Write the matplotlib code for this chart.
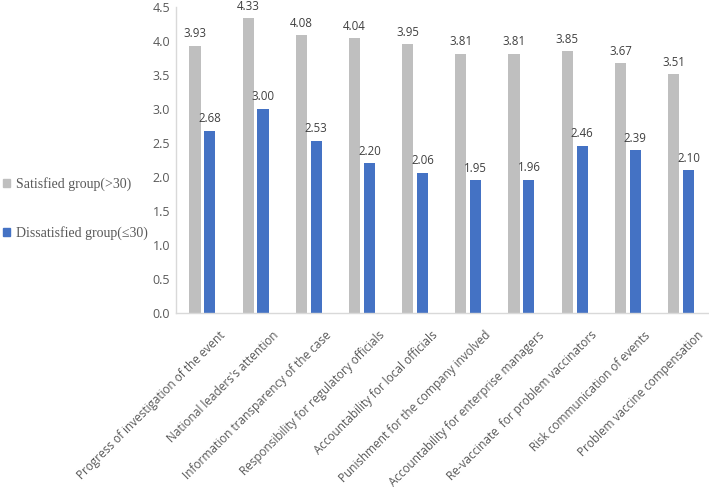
import numpy as np
import matplotlib
matplotlib.use("Agg")
import matplotlib.pyplot as plt
import matplotlib.transforms as mtransforms
from matplotlib.patches import Patch

categories = [
    "Progress of investigation of the event",
    "National leaders's attention",
    "Information transparency of the case",
    "Responsibility for regulatory officials",
    "Accountability for local officials",
    "Punishment for the company involved",
    "Accountability for enterprise managers",
    "Re-vaccinate  for problem vaccinators",
    "Risk communication of events",
    "Problem vaccine compensation",
]
satisfied = [3.93, 4.33, 4.08, 4.04, 3.95, 3.81, 3.81, 3.85, 3.67, 3.51]
dissatisfied = [2.68, 3.00, 2.53, 2.20, 2.06, 1.95, 1.96, 2.46, 2.39, 2.10]
series_names = ["Satisfied group(>30)", "Dissatisfied group(\u226430)"]
yticks = np.arange(0, 4.51, 0.5)

gray = "#BFBFBF"
blue = "#4472C4"
txt = "#595959"

plt.rcParams['font.family'] = ['Open Sans', 'DejaVu Sans']

fig = plt.figure(figsize=(7.09, 4.91), dpi=100)
ax = fig.add_axes([0.248, 0.3625, 0.75, 0.6235])

x = np.arange(len(categories))
w = 0.21
b1 = ax.bar(x - 0.14, satisfied, w, color=gray)
b2 = ax.bar(x + 0.14, dissatisfied, w, color=blue)

for bars, vals in ((b1, satisfied), (b2, dissatisfied)):
    for r, v in zip(bars, vals):
        ax.annotate(f"{v:.2f}", (r.get_x() + r.get_width() / 2, v),
                    xytext=(0, 4), textcoords="offset points",
                    ha="center", va="bottom", fontsize=8.3, color="#404040")

ax.set_xlim(-0.5, len(categories) - 0.5)
ax.set_ylim(0, 4.5)
ax.set_yticks(yticks)
ax.set_yticklabels([f"{t:.1f}" for t in yticks], fontsize=9, color=txt)
ax.set_xticks(x)
ax.set_xticklabels(categories, rotation=45, ha="right", rotation_mode="anchor",
                   fontsize=8.5, color=txt)
ax.tick_params(axis="both", length=0, pad=4)
ax.tick_params(axis="x", pad=2)
# shift rotated labels so their ends sit right of the bar groups, as in the original
shift = mtransforms.ScaledTranslation(16 / 100, -13 / 100, fig.dpi_scale_trans)
for lab in ax.get_xticklabels():
    lab.set_transform(lab.get_transform() + shift)
for s in ("top", "right"):
    ax.spines[s].set_visible(False)
for s in ("left", "bottom"):
    ax.spines[s].set_color("#D9D9D9")
    ax.spines[s].set_linewidth(1)

handles = [Patch(color=gray), Patch(color=blue)]
fig.legend(handles, series_names, loc="center left", bbox_to_anchor=(0.0, 0.575),
           frameon=False, prop={"family": "Liberation Serif", "size": 10},
           labelspacing=2.5, handlelength=0.5, handleheight=0.5, handletextpad=0.45,
           borderaxespad=0, borderpad=0.2, labelcolor=txt)

fig.savefig("out.png", dpi=100)
